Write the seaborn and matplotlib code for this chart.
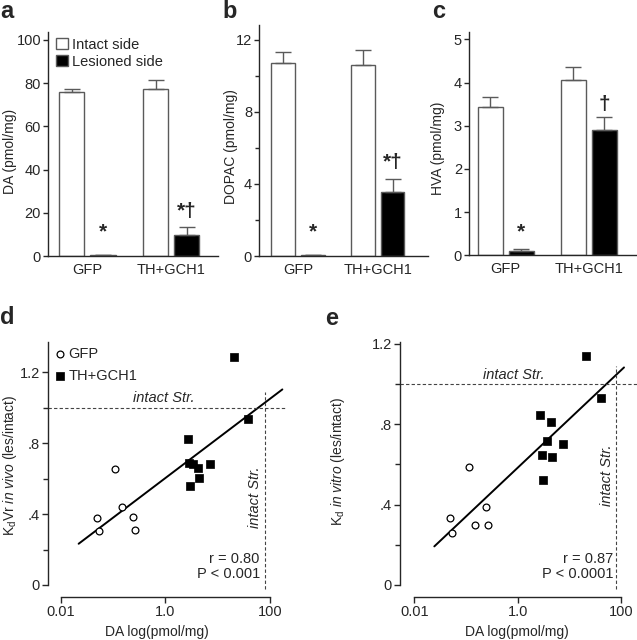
import numpy as np
import pandas as pd
import matplotlib
matplotlib.use("Agg")
import matplotlib.pyplot as plt
from matplotlib.ticker import FixedLocator, NullLocator, FixedFormatter
import seaborn as sns

# ---------------- data ----------------
groups = ["GFP", "TH+GCH1"]
sides = ["Intact side", "Lesioned side"]

da_intact = [75.8, 77.2]
da_intact_err = [1.7, 4.1]
da_lesion = [0.3, 9.7]
da_lesion_err = [0.0, 3.9]

dopac_intact = [10.7, 10.6]
dopac_intact_err = [0.65, 0.85]
dopac_lesion = [0.05, 3.57]
dopac_lesion_err = [0.02, 0.73]

hva_intact = [3.43, 4.07]
hva_intact_err = [0.23, 0.30]
hva_lesion = [0.10, 2.90]
hva_lesion_err = [0.04, 0.31]

# panel d (K_dVr in vivo) and e (K_d in vitro) vs DA on lesioned side
d_gfp_x = [0.0496, 0.054, 0.110, 0.147, 0.239, 0.265]
d_gfp_y = [0.377, 0.306, 0.653, 0.437, 0.381, 0.308]
d_th_x = [19.9, 37.4, 2.65, 2.86, 3.41, 4.19, 7.0, 4.38, 2.94]
d_th_y = [1.288, 0.934, 0.821, 0.686, 0.681, 0.662, 0.681, 0.604, 0.559]
d_fit_x = [0.0221, 170.0]
d_fit_y = [0.2325, 1.1026]

e_gfp_x = [0.0488, 0.054, 0.112, 0.150, 0.241, 0.268]
e_gfp_y = [0.335, 0.258, 0.587, 0.299, 0.388, 0.299]
e_th_x = [21.1, 39.9, 2.70, 4.34, 3.57, 7.5, 2.90, 4.59, 2.99]
e_th_y = [1.138, 0.932, 0.845, 0.810, 0.717, 0.702, 0.646, 0.638, 0.523]
e_fit_x = [0.0243, 112.0]
e_fit_y = [0.192, 1.082]

intact_da_ref = 80.0
intact_ratio_ref = 1.0

# ---------------- style ----------------
sns.set_style("ticks")
plt.rcParams["font.family"] = ["Liberation Sans", "DejaVu Sans"]
plt.rcParams["mathtext.fontset"] = "custom"
plt.rcParams["mathtext.rm"] = "Liberation Sans"
plt.rcParams["mathtext.it"] = "Liberation Sans:italic"
plt.rcParams["axes.linewidth"] = 1.0
plt.rcParams["xtick.major.width"] = 1.0
plt.rcParams["ytick.major.width"] = 1.0
plt.rcParams["ytick.minor.width"] = 1.0

W, H = 637, 640
fig = plt.figure(figsize=(W / 100, H / 100), dpi=100)


def rect(left, right, top, bottom):
    return [left / W, (H - bottom) / H, (right - left) / W, (bottom - top) / H]


EDGE = "#5a5a5a"
FS = 10.5
LFS = 10


def bar_panel(ax, intact, intact_err, lesion, lesion_err, ylabel, ylim, xlim,
              majors, minors, legend, lab_xy):
    df = pd.DataFrame({
        "group": groups * 2,
        "side": [sides[0]] * 2 + [sides[1]] * 2,
        "value": list(intact) + list(lesion),
    })
    sns.barplot(data=df, x="group", y="value", hue="side", order=groups,
                hue_order=sides, palette={sides[0]: "white", sides[1]: "black"},
                edgecolor=EDGE, linewidth=1.0, width=0.74, gap=0.19,
                errorbar=None, legend=legend, ax=ax)
    off = 0.185
    xs_i = np.arange(len(groups)) - off
    xs_l = np.arange(len(groups)) + off
    for xs, vals, errs in ((xs_i, intact, intact_err), (xs_l, lesion, lesion_err)):
        ax.errorbar(xs, vals, yerr=[np.zeros(len(vals)), errs], fmt="none",
                    ecolor=EDGE, elinewidth=1.0, capsize=5.5, capthick=1.0, zorder=1)
    ax.set_xlim(*xlim)
    ax.set_ylim(*ylim)
    ax.yaxis.set_major_locator(FixedLocator(majors))
    if minors:
        ax.yaxis.set_minor_locator(FixedLocator(minors))
        ax.tick_params(axis="y", which="minor", length=3, width=1.0)
    ax.tick_params(axis="y", which="major", length=3.5, pad=1.5, labelsize=FS)
    ax.tick_params(axis="x", length=0, pad=5, labelsize=FS)
    ax.set_xlabel("")
    ax.set_ylabel(ylabel, fontsize=LFS)
    ax.yaxis.set_label_coords(*lab_xy)
    sns.despine(ax=ax)


# ---- panel a ----
ax_a = fig.add_axes(rect(48, 218, 32, 256))
bar_panel(ax_a, da_intact, da_intact_err, da_lesion, da_lesion_err,
          "DA (pmol/mg)", (0, 103.7), (-0.47, 1.557),
          [0, 20, 40, 60, 80, 100], None, True, (-0.182, 0.467))
sns.move_legend(ax_a, "upper left", bbox_to_anchor=(0.047, 0.975), frameon=False,
                title=None, fontsize=FS, handlelength=0.8, handleheight=0.75,
                handletextpad=0.3, labelspacing=0.2, borderpad=0, borderaxespad=0)
for h in ax_a.get_legend().legend_handles:
    h.set_edgecolor(EDGE)
ax_a.text(0.185, 11, "*", ha="center", va="center", fontsize=15, fontweight="bold")
ax_a.text(1.185, 20.5, "*†", ha="center", va="center", fontsize=15, fontweight="bold")

# ---- panel b ----
ax_b = fig.add_axes(rect(259, 428, 25, 256))
bar_panel(ax_b, dopac_intact, dopac_intact_err, dopac_lesion, dopac_lesion_err,
          "DOPAC (pmol/mg)", (0, 12.83), (-0.49, 1.63),
          [0, 4, 8, 12], [2, 6, 10], False, (-0.124, 0.472))
ax_b.text(0.185, 1.35, "*", ha="center", va="center", fontsize=15, fontweight="bold")
ax_b.text(1.185, 5.2, "*†", ha="center", va="center", fontsize=15, fontweight="bold")

# ---- panel c ----
ax_c = fig.add_axes(rect(469, 637, 32, 255.3))
bar_panel(ax_c, hva_intact, hva_intact_err, hva_lesion, hva_lesion_err,
          "HVA (pmol/mg)", (0, 5.17), (-0.443, 1.58),
          [0, 1, 2, 3, 4, 5], None, False, (-0.143, 0.478))
ax_c.text(0.185, 0.54, "*", ha="center", va="center", fontsize=15, fontweight="bold")
ax_c.text(1.185, 3.48, "†", ha="center", va="center", fontsize=15, fontweight="bold")


# ---- scatter panels ----
def scatter_panel(ax, gx, gy, tx, ty, fx, fy, ylabel, ylim, xlim, rtext, legend,
                  hx, vy, rx, ylab_xy, xlab_xy):
    sns.scatterplot(x=gx, y=gy, marker="o", s=24, color="white", edgecolor="black",
                    linewidth=0.9, label="GFP" if legend else None, ax=ax, zorder=3)
    sns.scatterplot(x=tx, y=ty, marker="s", s=26, color="black", edgecolor="black",
                    linewidth=0.5, label="TH+GCH1" if legend else None, ax=ax, zorder=3)
    sns.lineplot(x=fx, y=fy, color="black", linewidth=1.4, ax=ax, zorder=2)
    ax.set_xscale("log")
    ax.set_xlim(*xlim)
    ax.set_ylim(*ylim)
    ax.axhline(intact_ratio_ref, color="#444444", linestyle=(0, (3, 2)), linewidth=0.8)
    ax.vlines(intact_da_ref, -0.02, 1.09, color="#444444", linestyle=(0, (3, 2)),
              linewidth=0.8, clip_on=False)
    ax.text(hx, 1.012, "intact Str.", ha="center", va="bottom", fontsize=FS,
            style="italic")
    ax.text(51.5, vy, "intact Str.", ha="center", va="center", fontsize=FS,
            style="italic", rotation=90)
    ax.text(rx, 0.015, rtext, ha="right", va="bottom", fontsize=FS,
            transform=ax.transAxes, linespacing=1.15)
    ax.xaxis.set_major_locator(FixedLocator([0.01, 1.0, 100]))
    ax.xaxis.set_major_formatter(FixedFormatter(["0.01", "1.0", "100"]))
    ax.xaxis.set_minor_locator(NullLocator())
    ax.yaxis.set_major_locator(FixedLocator([0, 0.4, 0.8, 1.2]))
    ax.yaxis.set_major_formatter(FixedFormatter(["0", ".4", ".8", "1.2"]))
    ax.yaxis.set_minor_locator(FixedLocator([0.2, 0.6, 1.0]))
    ax.tick_params(axis="both", which="major", length=4, pad=2, labelsize=FS)
    ax.tick_params(axis="y", which="minor", length=3.5, width=1.0)
    sns.despine(ax=ax)
    ax.spines["bottom"].set_position(("outward", 8.6))
    ax.spines["bottom"].set_bounds(0.01, 100)
    ax.spines["left"].set_bounds(0, ylim[1])
    ax.set_xlabel("DA log(pmol/mg)", fontsize=LFS)
    ax.set_ylabel(ylabel, fontsize=LFS)
    ax.yaxis.set_label_coords(*ylab_xy)
    ax.xaxis.set_label_coords(*xlab_xy)
    if legend:
        ax.legend(loc="upper left", bbox_to_anchor=(0.027, 0.98), frameon=False,
                  fontsize=FS, handlelength=0.7, handletextpad=0.25,
                  labelspacing=0.55, borderpad=0, borderaxespad=0)


ax_d = fig.add_axes(rect(48, 286, 342, 585))
scatter_panel(ax_d, d_gfp_x, d_gfp_y, d_th_x, d_th_y, d_fit_x, d_fit_y,
              r"K$_\mathregular{d}$Vr $\mathit{in\ vivo}$ (les/intact)",
              (0, 1.37), (10 ** -2.24, 10 ** 2.30), "r = 0.80\nP < 0.001", True,
              0.93, 0.497, 0.89, (-0.122, 0.494), (0.457, -0.165))

ax_e = fig.add_axes(rect(400, 637, 341.7, 585))
scatter_panel(ax_e, e_gfp_x, e_gfp_y, e_th_x, e_th_y, e_fit_x, e_fit_y,
              r"K$_\mathregular{d}$ $\mathit{in\ vitro}$ (les/intact)",
              (0, 1.21), (10 ** -2.277, 10 ** 2.30), "r = 0.87\nP < 0.0001", False,
              0.82, 0.547, 0.90, (-0.224, 0.506), (0.492, -0.164))

# ---- panel letters ----
for lx, ly, lab in ((0, 18, "a"), (222, 18, "b"), (432, 18, "c"),
                    (0, 324, "d"), (325, 325, "e")):
    fig.text(lx / W, 1 - ly / H, lab, fontsize=17, fontweight="bold",
             ha="left", va="baseline")

fig.savefig("out.png", dpi=100)
